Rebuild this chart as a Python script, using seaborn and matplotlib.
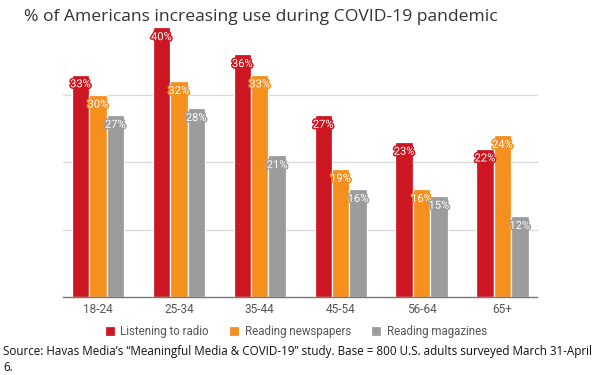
import matplotlib
matplotlib.use("Agg")
import matplotlib.pyplot as plt
import matplotlib.patheffects as pe
import seaborn as sns
import pandas as pd

# Daten
age_groups = ["18-24", "25-34", "35-44", "45-54", "56-64", "65+"]
series = ["Listening to radio", "Reading newspapers", "Reading magazines"]
radio = [33, 40, 36, 27, 23, 22]
newspapers = [30, 32, 33, 19, 16, 24]
magazines = [27, 28, 21, 16, 15, 12]
colors = ["#CC1722", "#F5901E", "#9C9C9C"]

rows = []
for name, vals in zip(series, [radio, newspapers, magazines]):
    for g, v in zip(age_groups, vals):
        rows.append({"age": g, "series": name, "value": v})
df = pd.DataFrame(rows)

sns.set_style("white")
plt.rcParams["font.family"] = ["Roboto", "DejaVu Sans"]

fig = plt.figure(figsize=(6, 3.75), dpi=100)
ax = fig.add_axes([0.0958, 0.208, 0.809, 0.7227])

sns.barplot(data=df, x="age", y="value", hue="series", palette=colors,
            saturation=1, width=0.645, edgecolor="white", linewidth=0.9,
            ax=ax, legend=True)

ax.set_ylim(0, 40.2)
ax.set_xlim(-0.5, len(age_groups) - 0.5)
for y in [10, 20, 30]:
    ax.plot([-0.432, 5.426], [y, y], color="#D9D9D9", lw=0.9, zorder=0)
ax.set_yticks([])
ax.set_xlabel("")
ax.set_ylabel("")
for s in ["top", "right", "left"]:
    ax.spines[s].set_visible(False)
ax.spines["bottom"].set_bounds(-0.432, 5.426)
ax.spines["bottom"].set_color("#777777")
ax.spines["bottom"].set_linewidth(1.0)
ax.tick_params(axis="x", length=0, colors="#555555", labelsize=8.5, pad=4)

# Werte-Labels oben in den Balken
for container, col in zip(ax.containers, colors):
    for bar in container:
        h = bar.get_height()
        ax.text(bar.get_x() + bar.get_width() / 2, h - 1.45, f"{h:.0f}%",
                ha="center", va="center", fontsize=8, color="white",
                path_effects=[pe.withStroke(linewidth=2.2, foreground=col)])

handles, labels = ax.get_legend_handles_labels()
ax.get_legend().remove()
leg = fig.legend(handles, labels, loc="center", bbox_to_anchor=(0.493, 0.117),
                 ncol=3, frameon=False, fontsize=8.3, handlelength=0.9,
                 handleheight=1.0, handletextpad=0.45, columnspacing=1.75)
for t in leg.get_texts():
    t.set_color("#555555")

fig.text(0.435, 0.955, "% of Americans increasing use during COVID-19 pandemic",
         ha="center", va="center", fontsize=12.6, color="#333333",
         family=["Open Sans", "DejaVu Sans"])
fig.text(0.005, 0.041,
         "Source: Havas Media\u2019s \u201cMeaningful Media & COVID-19\u201d study. "
         "Base = 800 U.S. adults surveyed March 31-April\n6.",
         ha="left", va="center", fontsize=8.4, color="#111111",
         family=["Open Sans", "DejaVu Sans"], linespacing=1.25)

fig.savefig("out.png", dpi=100, facecolor="white")
